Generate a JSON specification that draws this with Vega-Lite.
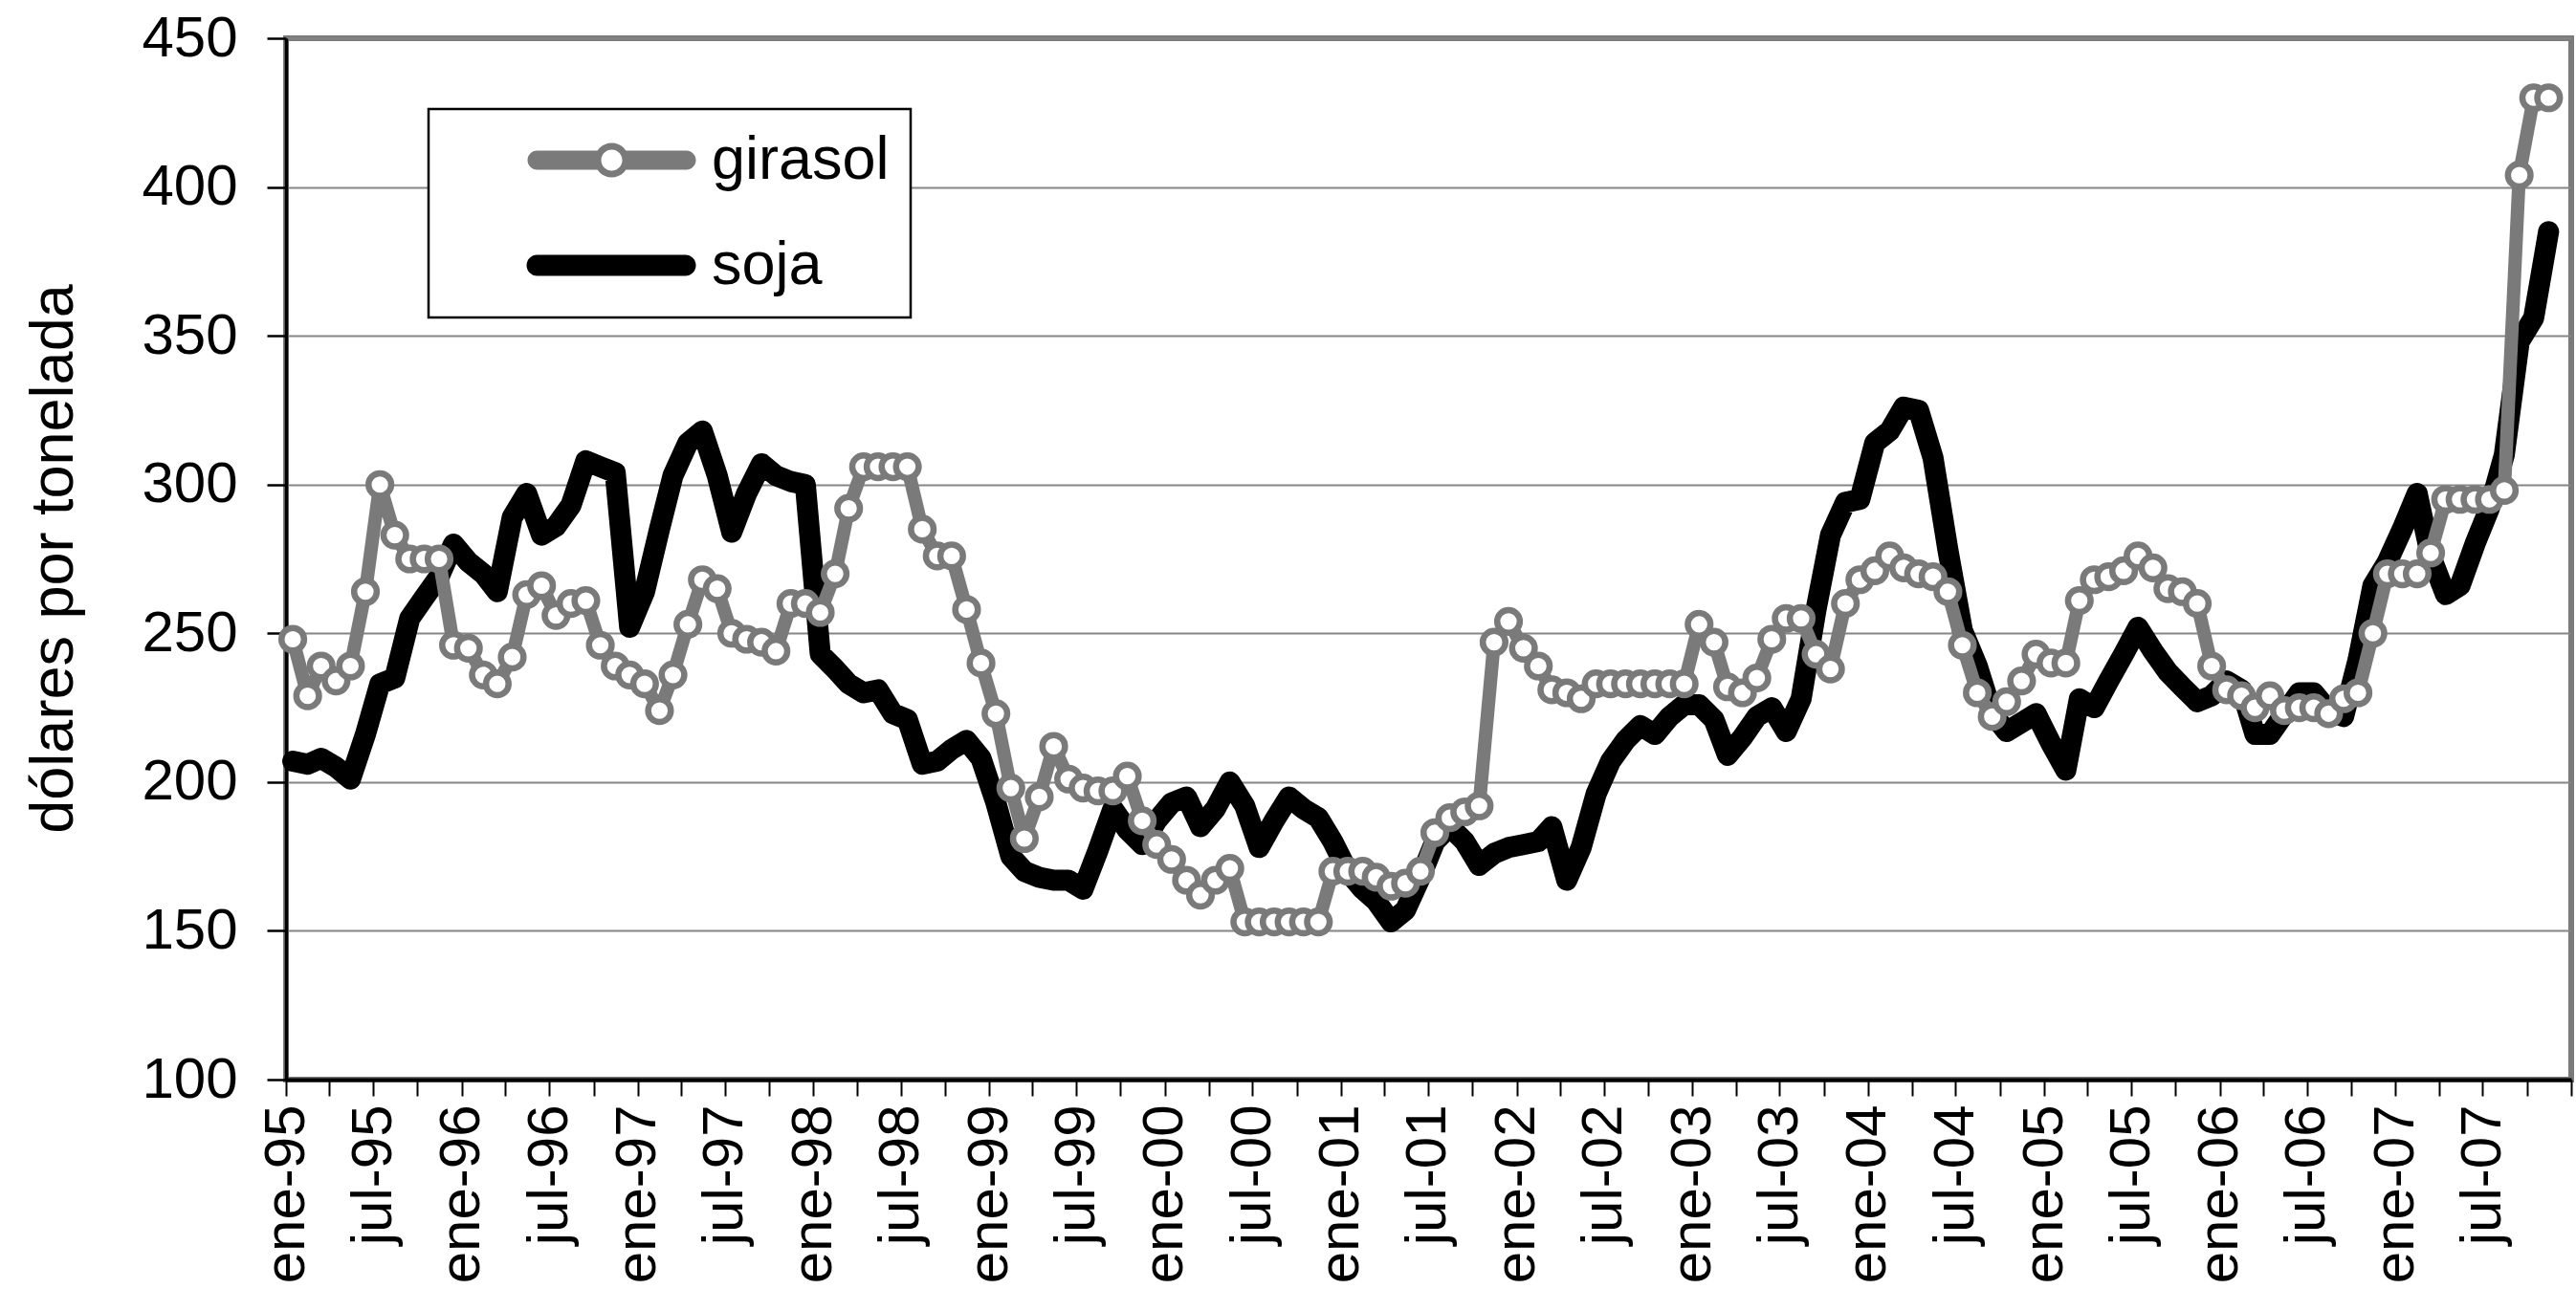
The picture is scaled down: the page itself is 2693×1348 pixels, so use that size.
{
  "$schema": "https://vega.github.io/schema/vega-lite/v6.json",
  "width": 2389,
  "height": 1089,
  "autosize": {"type": "none"},
  "padding": {"left": 299, "top": 40, "right": 5, "bottom": 219},
  "background": "white",
  "config": {
    "view": {"stroke": "#7a7a7a", "strokeWidth": 6},
    "font": "Liberation Sans",
    "axis": {"labelFont": "Liberation Sans", "titleFont": "Liberation Sans", "labelColor": "black", "titleColor": "black", "domainColor": "black", "tickColor": "black"}
  },
  "data": {"values": [
    {"f":"1995-01-15","girasol":248,"soja":207},{"f":"1995-02-15","girasol":229,"soja":206},{"f":"1995-03-15","girasol":239,"soja":208},{"f":"1995-04-15","girasol":234,"soja":205},{"f":"1995-05-15","girasol":239,"soja":201},{"f":"1995-06-15","girasol":264,"soja":216},{"f":"1995-07-15","girasol":300,"soja":233},{"f":"1995-08-15","girasol":283,"soja":235},{"f":"1995-09-15","girasol":275,"soja":255},{"f":"1995-10-15","girasol":275,"soja":262},{"f":"1995-11-15","girasol":275,"soja":269},{"f":"1995-12-15","girasol":246,"soja":280},
    {"f":"1996-01-15","girasol":245,"soja":274},{"f":"1996-02-15","girasol":236,"soja":270},{"f":"1996-03-15","girasol":233,"soja":264},{"f":"1996-04-15","girasol":242,"soja":289},{"f":"1996-05-15","girasol":263,"soja":297},{"f":"1996-06-15","girasol":266,"soja":283},{"f":"1996-07-15","girasol":256,"soja":286},{"f":"1996-08-15","girasol":260,"soja":293},{"f":"1996-09-15","girasol":261,"soja":308},{"f":"1996-10-15","girasol":246,"soja":306},{"f":"1996-11-15","girasol":239,"soja":304},{"f":"1996-12-15","girasol":236,"soja":252},
    {"f":"1997-01-15","girasol":233,"soja":264},{"f":"1997-02-15","girasol":224,"soja":285},{"f":"1997-03-15","girasol":236,"soja":303},{"f":"1997-04-15","girasol":253,"soja":314},{"f":"1997-05-15","girasol":268,"soja":318},{"f":"1997-06-15","girasol":265,"soja":303},{"f":"1997-07-15","girasol":250,"soja":284},{"f":"1997-08-15","girasol":248,"soja":297},{"f":"1997-09-15","girasol":247,"soja":307},{"f":"1997-10-15","girasol":244,"soja":303},{"f":"1997-11-15","girasol":260,"soja":301},{"f":"1997-12-15","girasol":260,"soja":300},
    {"f":"1998-01-15","girasol":257,"soja":243},{"f":"1998-02-15","girasol":270,"soja":238},{"f":"1998-03-15","girasol":292,"soja":233},{"f":"1998-04-15","girasol":306,"soja":230},{"f":"1998-05-15","girasol":306,"soja":231},{"f":"1998-06-15","girasol":306,"soja":223},{"f":"1998-07-15","girasol":306,"soja":221},{"f":"1998-08-15","girasol":285,"soja":206},{"f":"1998-09-15","girasol":276,"soja":207},{"f":"1998-10-15","girasol":276,"soja":211},{"f":"1998-11-15","girasol":258,"soja":214},{"f":"1998-12-15","girasol":240,"soja":208},
    {"f":"1999-01-15","girasol":223,"soja":193},{"f":"1999-02-15","girasol":198,"soja":175},{"f":"1999-03-15","girasol":181,"soja":170},{"f":"1999-04-15","girasol":195,"soja":168},{"f":"1999-05-15","girasol":212,"soja":167},{"f":"1999-06-15","girasol":201,"soja":167},{"f":"1999-07-15","girasol":198,"soja":164},{"f":"1999-08-15","girasol":197,"soja":177},{"f":"1999-09-15","girasol":197,"soja":191},{"f":"1999-10-15","girasol":202,"soja":184},{"f":"1999-11-15","girasol":187,"soja":179},{"f":"1999-12-15","girasol":179,"soja":187},
    {"f":"2000-01-15","girasol":174,"soja":193},{"f":"2000-02-15","girasol":167,"soja":195},{"f":"2000-03-15","girasol":162,"soja":185},{"f":"2000-04-15","girasol":167,"soja":191},{"f":"2000-05-15","girasol":171,"soja":200},{"f":"2000-06-15","girasol":153,"soja":192},{"f":"2000-07-15","girasol":153,"soja":178},{"f":"2000-08-15","girasol":153,"soja":187},{"f":"2000-09-15","girasol":153,"soja":195},{"f":"2000-10-15","girasol":153,"soja":191},{"f":"2000-11-15","girasol":153,"soja":188},{"f":"2000-12-15","girasol":170,"soja":180},
    {"f":"2001-01-15","girasol":170,"soja":170},{"f":"2001-02-15","girasol":170,"soja":164},{"f":"2001-03-15","girasol":168,"soja":160},{"f":"2001-04-15","girasol":165,"soja":153},{"f":"2001-05-15","girasol":166,"soja":157},{"f":"2001-06-15","girasol":170,"soja":168},{"f":"2001-07-15","girasol":183,"soja":180},{"f":"2001-08-15","girasol":188,"soja":185},{"f":"2001-09-15","girasol":190,"soja":180},{"f":"2001-10-15","girasol":192,"soja":172},{"f":"2001-11-15","girasol":247,"soja":176},{"f":"2001-12-15","girasol":254,"soja":178},
    {"f":"2002-01-15","girasol":245,"soja":179},{"f":"2002-02-15","girasol":239,"soja":180},{"f":"2002-03-15","girasol":231,"soja":185},{"f":"2002-04-15","girasol":230,"soja":167},{"f":"2002-05-15","girasol":228,"soja":178},{"f":"2002-06-15","girasol":233,"soja":196},{"f":"2002-07-15","girasol":233,"soja":207},{"f":"2002-08-15","girasol":233,"soja":214},{"f":"2002-09-15","girasol":233,"soja":219},{"f":"2002-10-15","girasol":233,"soja":216},{"f":"2002-11-15","girasol":233,"soja":222},{"f":"2002-12-15","girasol":233,"soja":226},
    {"f":"2003-01-15","girasol":253,"soja":226},{"f":"2003-02-15","girasol":247,"soja":221},{"f":"2003-03-15","girasol":232,"soja":209},{"f":"2003-04-15","girasol":230,"soja":215},{"f":"2003-05-15","girasol":235,"soja":222},{"f":"2003-06-15","girasol":248,"soja":225},{"f":"2003-07-15","girasol":255,"soja":217},{"f":"2003-08-15","girasol":255,"soja":228},{"f":"2003-09-15","girasol":243,"soja":258},{"f":"2003-10-15","girasol":238,"soja":283},{"f":"2003-11-15","girasol":260,"soja":294},{"f":"2003-12-15","girasol":268,"soja":295},
    {"f":"2004-01-15","girasol":271,"soja":314},{"f":"2004-02-15","girasol":276,"soja":318},{"f":"2004-03-15","girasol":272,"soja":326},{"f":"2004-04-15","girasol":270,"soja":325},{"f":"2004-05-15","girasol":269,"soja":309},{"f":"2004-06-15","girasol":264,"soja":278},{"f":"2004-07-15","girasol":246,"soja":251},{"f":"2004-08-15","girasol":230,"soja":239},{"f":"2004-09-15","girasol":222,"soja":223},{"f":"2004-10-15","girasol":227,"soja":217},{"f":"2004-11-15","girasol":234,"soja":220},{"f":"2004-12-15","girasol":243,"soja":223},
    {"f":"2005-01-15","girasol":240,"soja":213},{"f":"2005-02-15","girasol":240,"soja":204},{"f":"2005-03-15","girasol":261,"soja":228},{"f":"2005-04-15","girasol":268,"soja":225},{"f":"2005-05-15","girasol":269,"soja":234},{"f":"2005-06-15","girasol":271,"soja":243},{"f":"2005-07-15","girasol":276,"soja":252},{"f":"2005-08-15","girasol":272,"soja":244},{"f":"2005-09-15","girasol":265,"soja":237},{"f":"2005-10-15","girasol":264,"soja":232},{"f":"2005-11-15","girasol":260,"soja":227},{"f":"2005-12-15","girasol":239,"soja":229},
    {"f":"2006-01-15","girasol":231,"soja":234},{"f":"2006-02-15","girasol":229,"soja":231},{"f":"2006-03-15","girasol":225,"soja":216},{"f":"2006-04-15","girasol":229,"soja":216},{"f":"2006-05-15","girasol":224,"soja":223},{"f":"2006-06-15","girasol":225,"soja":230},{"f":"2006-07-15","girasol":225,"soja":230},{"f":"2006-08-15","girasol":223,"soja":224},{"f":"2006-09-15","girasol":228,"soja":222},{"f":"2006-10-15","girasol":230,"soja":241},{"f":"2006-11-15","girasol":250,"soja":266},{"f":"2006-12-15","girasol":270,"soja":274},
    {"f":"2007-01-15","girasol":270,"soja":285},{"f":"2007-02-15","girasol":270,"soja":297},{"f":"2007-03-15","girasol":277,"soja":276},{"f":"2007-04-15","girasol":295,"soja":263},{"f":"2007-05-15","girasol":295,"soja":266},{"f":"2007-06-15","girasol":295,"soja":280},{"f":"2007-07-15","girasol":295,"soja":292},{"f":"2007-08-15","girasol":298,"soja":310},{"f":"2007-09-15","girasol":404,"soja":348},{"f":"2007-10-15","girasol":430,"soja":356},{"f":"2007-11-15","girasol":430,"soja":385}
  ]},
  "transform": [{"fold": ["girasol", "soja"], "as": ["serie", "precio"]}],
  "encoding": {
    "x": {
      "field": "f", "type": "temporal",
      "scale": {"type": "utc", "nice": false, "domain": [{"year": 1995, "month": 1, "date": 1, "utc": true}, {"year": 2008, "month": 1, "date": 1, "utc": true}]},
      "axis": {
        "title": null,
        "tickCount": {"interval": "month", "step": 3},
        "labelExpr": "utcmonth(datum.value) == 0 && utcyear(datum.value) < 2008 ? 'ene-' + utcFormat(datum.value, '%y') : (utcmonth(datum.value) == 6 ? 'jul-' + utcFormat(datum.value, '%y') : '')",
        "labelAngle": 270, "labelAlign": "right", "labelBaseline": "middle",
        "labelFontSize": 60, "labelPadding": 9, "labelLimit": 1000,
        "tickSize": 17, "tickWidth": 2, "domainWidth": 4,
        "grid": false, "labelOverlap": false, "labelFlush": false, "labelBound": false
      }
    },
    "y": {
      "field": "precio", "type": "quantitative",
      "scale": {"domain": [100, 450], "nice": false, "zero": false},
      "axis": {
        "title": "dólares por tonelada",
        "values": [100, 150, 200, 250, 300, 350, 400, 450],
        "labelFontSize": 60, "labelPadding": 31,
        "tickSize": 20, "tickWidth": 2.5, "domainWidth": 3.5,
        "grid": true, "gridColor": "#858585", "gridWidth": 2,
        "titleFontSize": 63, "titleFontWeight": "normal",
        "titleX": -243, "titleY": 544, "titleAngle": 270, "titleAlign": "center", "titleBaseline": "middle",
        "labelFlush": false
      }
    }
  },
  "layer": [
    {
      "transform": [{"filter": {"field": "serie", "equal": "soja"}}],
      "mark": {"type": "line", "color": "black", "strokeWidth": 22, "strokeJoin": "round", "strokeCap": "round"},
      "encoding": {}
    },
    {
      "transform": [{"filter": {"field": "serie", "equal": "girasol"}}],
      "mark": {"type": "line", "color": "#7a7a7a", "strokeWidth": 14, "strokeJoin": "round", "strokeCap": "round"},
      "encoding": {}
    },
    {
      "transform": [{"filter": {"field": "serie", "equal": "girasol"}}],
      "mark": {"type": "point", "shape": "circle", "filled": true, "fill": "white", "stroke": "#7a7a7a", "strokeWidth": 6.5, "size": 560, "opacity": 1},
      "encoding": {}
    },
    {
      "mark": {"type": "point", "filled": true, "opacity": 0, "size": 1600, "strokeWidth": 0},
      "encoding": {
        "fill": {
          "field": "serie", "type": "nominal",
          "scale": {"domain": ["girasol", "soja"], "range": ["#7a7a7a", "#000000"]},
          "legend": {"title": null, "orient": "none", "legendX": 149, "legendY": 74, "direction": "vertical", "padding": 22, "strokeColor": "black", "fillColor": "white", "symbolSize": 1600, "symbolStrokeWidth": 0, "symbolOpacity": 1, "labelFontSize": 63, "labelFont": "Liberation Sans", "labelColor": "black", "labelOffset": 211, "labelLimit": 1000, "rowPadding": 46, "labelExpr": "datum.label + '     '", "encode": {"legend": {"update": {"strokeWidth": {"value": 2.5}}}}}
        },
        "shape": {
          "field": "serie", "type": "nominal",
          "scale": {"domain": ["girasol", "soja"], "range": ["M3,-0.5L6.25,-0.5L6.25,0.5L3,0.5A0.5,0.5,0,0,1,3,-0.5ZM7.55,-0.5L10.8,-0.5A0.5,0.5,0,0,1,10.8,0.5L7.55,0.5ZM7.8,0A0.9,0.9,0,1,1,6.0,0A0.9,0.9,0,1,1,7.8,0ZM7.45,0A0.55,0.55,0,1,0,6.35,0A0.55,0.55,0,1,0,7.45,0Z", "M3,-0.55L10.75,-0.55A0.55,0.55,0,0,1,10.75,0.55L3,0.55A0.55,0.55,0,0,1,3,-0.55Z"]},
          "legend": {"title": null, "orient": "none", "legendX": 149, "legendY": 74, "direction": "vertical", "padding": 22, "strokeColor": "black", "fillColor": "white", "symbolSize": 1600, "symbolStrokeWidth": 0, "symbolOpacity": 1, "labelFontSize": 63, "labelFont": "Liberation Sans", "labelColor": "black", "labelOffset": 211, "labelLimit": 1000, "rowPadding": 46, "labelExpr": "datum.label + '     '", "encode": {"legend": {"update": {"strokeWidth": {"value": 2.5}}}}}
        }
      }
    }
  ]
}
